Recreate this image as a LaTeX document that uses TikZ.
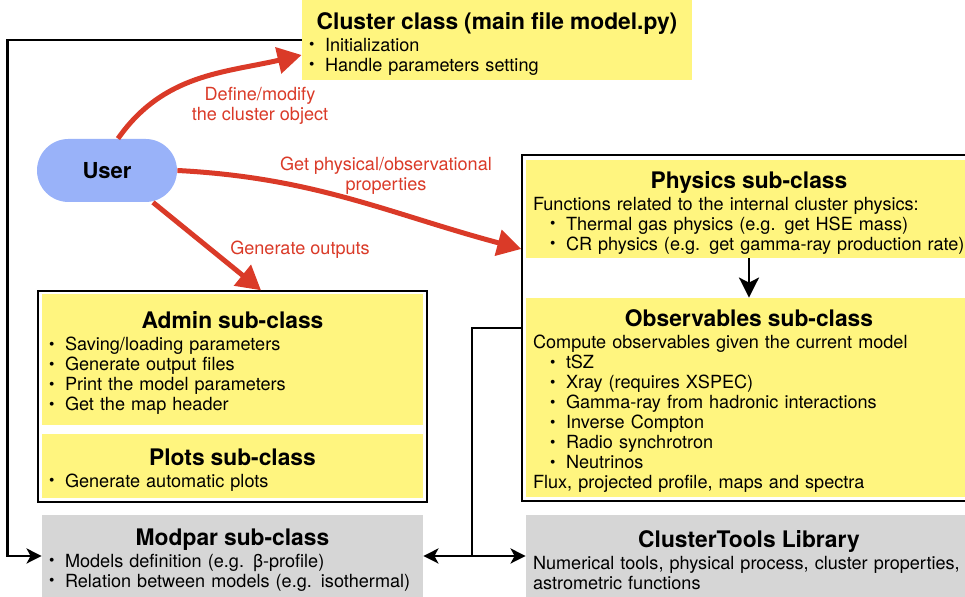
\documentclass[tikz,border=0pt]{standalone}
\usepackage{fontspec}
\setmainfont{TeX Gyre Heros}
\usepackage{xcolor}
\usetikzlibrary{arrows.meta}
\definecolor{boxyellow}{HTML}{FFF57F}
\definecolor{boxgray}{HTML}{D6D6D6}
\definecolor{userblue}{HTML}{99B2F9}
\definecolor{linkred}{HTML}{DA3A28}
\newcommand{\bulmark}{\makebox[8pt][l]{\raisebox{0.15ex}{\scalebox{0.85}{\textbullet}}}}
\newcommand{\bul}[1]{\mbox{\bulmark#1}}
\newcommand{\subbul}[1]{\mbox{\hspace*{8.5pt}\bulmark#1}}
\newcommand{\boxtitle}[1]{\makebox[\hsize]{\rule{0pt}{12.2pt}\fontsize{11.4}{11}\selectfont\bfseries #1}}

\begin{document}
\begin{tikzpicture}[x=0.5pt, y=0.5pt,
    every node/.style={font=\fontsize{9.05}{10}\selectfont},
    ybox/.style={fill=boxyellow, align=left, inner xsep=3.5pt, inner ysep=0pt},
    gbox/.style={fill=boxgray, align=left, inner xsep=3.5pt, inner ysep=0pt},
    groupframe/.style={draw, line width=0.7pt, inner sep=0pt},
    redarrow/.style={draw=linkred, line width=2.5pt, -{Triangle[length=12pt, width=13pt]}},
    blackarrow/.style={line width=1.4pt, -{Stealth[length=7.5pt, width=7.5pt, inset=2pt]}},
    redlabel/.style={text=linkred, align=center}]
    \useasboundingbox (0,0) rectangle (965,597);
    \node[groupframe, minimum width=194.5pt, minimum height=105.5pt] (adminframe) at (232.5,200.5) {};
    \node[groupframe, minimum width=227pt, minimum height=173pt] (physframe) at (749,269) {};
    \node[ybox, text width=188pt, minimum height=40pt] (cluster) at (497,557)
      {\boxtitle{Cluster class (main file model.py)}\\[1pt] \bul{Initialization}\\ \bul{Handle parameters setting}};
    \node[fill=userblue, rounded corners=15.75pt, minimum width=70pt, minimum height=31.5pt,
      font=\fontsize{11}{12}\selectfont\bfseries] (user) at (107,426.5) {User};
    \node[ybox, text width=183.5pt, minimum height=65.5pt] (admin) at (232.5,237.5)
      {\boxtitle{Admin sub-class}\\[1pt] \bul{Saving/loading parameters}\\ \bul{Generate output files}\\
       \bul{Print the model parameters}\\ \bul{Get the map header}};
    \node[ybox, text width=183.5pt, minimum height=32pt] (plots) at (232.5,131)
      {\boxtitle{Plots sub-class}\\[1pt] \bul{Generate automatic plots}};
    \node[gbox, text width=183.5pt, minimum height=41pt] (modpar) at (232.5,41)
      {\boxtitle{Modpar sub-class}\\[1pt] \bul{Models definition (e.g. β-profile)}\\
       \bul{Relation between models (e.g. isothermal)}};
    \node[ybox, text width=216pt, minimum height=49pt] (physics) at (749,388)
      {\boxtitle{Physics sub-class}\\[1pt] \mbox{Functions related to the internal cluster physics:}\\
       \subbul{Thermal gas physics (e.g. get HSE mass)}\\
       \subbul{CR physics (e.g. get gamma-ray production rate)}};
    \node[ybox, text width=216pt, minimum height=99.5pt] (observ) at (749,199.5)
      {\boxtitle{Observables sub-class}\\[1pt] \mbox{Compute observables given the current model}\\
       \subbul{tSZ}\\ \subbul{Xray (requires XSPEC)}\\ \subbul{Gamma-ray from hadronic interactions}\\
       \subbul{Inverse Compton}\\ \subbul{Radio synchrotron}\\ \subbul{Neutrinos}\\
       \mbox{Flux, projected profile, maps and spectra}};
    \node[gbox, text width=216pt, minimum height=41pt] (tools) at (749,41)
      {\boxtitle{ClusterTools Library}\\[1pt] \mbox{Numerical tools, physical process, cluster properties,}\\
       \mbox{astrometric functions}};
    \coordinate (split) at (472,41);
    \draw[blackarrow] (cluster.west) -- ++(-294,0) |- (modpar.west);
    \draw[line width=1.4pt] (physframe.west) -| (split);
    \draw[blackarrow] (split) -- (modpar.east);
    \draw[blackarrow] (split) -- (tools.west);
    \draw[line width=1.4pt, -{Stealth[length=10pt, width=10pt, inset=2.5pt]}] (physics.south) -- (observ.north);
    \draw[redarrow] ([xshift=5.5pt]user.north) to[out=55, in=193] ([yshift=-7.5pt]cluster.west);
    \draw[redarrow] (user.east) to[out=-3, in=165] ([yshift=39.5pt]physframe.west);
    \draw[redarrow] ([xshift=23pt]user.south) -- ([xshift=14.25pt]adminframe.north);
    \node[redlabel] (definelbl) at (260,491.5) {Define/modify\\the cluster object};
    \node[redlabel] (getlbl) at (386,421) {Get physical/observational\\properties};
    \node[redlabel] (genlbl) at (300,347) {Generate outputs};
  \end{tikzpicture}
\end{document}
